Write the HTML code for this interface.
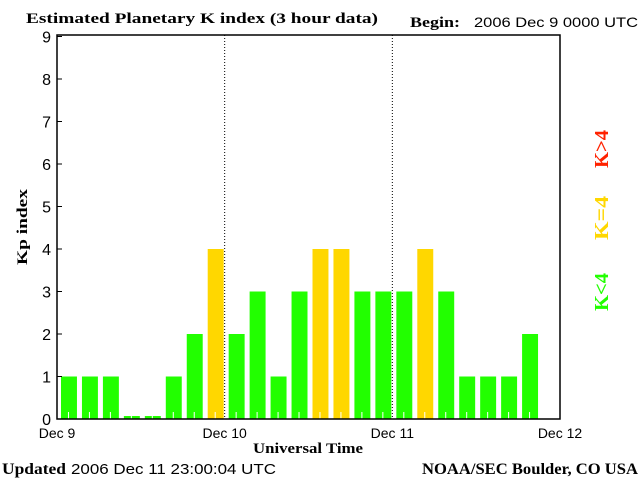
<!DOCTYPE html>
<html><head><meta charset="utf-8"><style>
body{margin:0;background:#fff;width:640px;height:480px;overflow:hidden}
svg{display:block}
.serif{font-family:"Liberation Serif",serif;font-weight:bold}
.sans{font-family:"Liberation Sans",sans-serif}
</style></head><body>
<svg id="chart" width="640" height="480">
<text x="26" y="23" class="serif" font-size="15" textLength="352" lengthAdjust="spacingAndGlyphs">Estimated Planetary K index (3 hour data)</text>
<text x="410" y="27" class="serif" font-size="15" textLength="50" lengthAdjust="spacingAndGlyphs">Begin:</text>
<text x="474" y="27" class="sans" font-size="14" textLength="164" lengthAdjust="spacingAndGlyphs">2006 Dec 9 0000 UTC</text>
<text transform="translate(27,227) rotate(-90)" text-anchor="middle" class="serif" font-size="15" textLength="76" lengthAdjust="spacingAndGlyphs">Kp index</text>
<text x="308" y="453" text-anchor="middle" class="serif" font-size="15" textLength="110" lengthAdjust="spacingAndGlyphs">Universal Time</text>
<text x="2" y="474" class="serif" font-size="16" textLength="64" lengthAdjust="spacingAndGlyphs">Updated</text>
<text x="71" y="474" class="sans" font-size="15" textLength="205" lengthAdjust="spacingAndGlyphs">2006 Dec 11 23:00:04 UTC</text>
<text x="422" y="474" class="serif" font-size="16" textLength="216" lengthAdjust="spacingAndGlyphs">NOAA/SEC Boulder, CO USA</text>
<text transform="translate(608,149) rotate(-90)" text-anchor="middle" class="serif" font-size="20" fill="#ff2200" textLength="38" lengthAdjust="spacingAndGlyphs">K&gt;4</text>
<text transform="translate(608,218) rotate(-90)" text-anchor="middle" class="serif" font-size="20" fill="#ffd700" textLength="44" lengthAdjust="spacingAndGlyphs">K=4</text>
<text transform="translate(608,292) rotate(-90)" text-anchor="middle" class="serif" font-size="20" fill="#22ff00" textLength="38" lengthAdjust="spacingAndGlyphs">K&lt;4</text>
<g id="marks"></g>
<rect x="57" y="35" width="503" height="384" fill="none" stroke="#000" stroke-width="1.5"/>
</svg>
<script>
const kpValues=[1,1,1,0,0,1,2,4, 2,3,1,3,4,4,3,3, 3,4,3,1,1,1,2];
const yTicks=[0,1,2,3,4,5,6,7,8,9];
const dayLabels=["Dec 9","Dec 10","Dec 11","Dec 12"];
const NS="http://www.w3.org/2000/svg";
const X0=57,X1=560,Y0=419,Y9=36.5;
const slotW=(X1-X0)/24;
const xs=i=>X0+i*slotW;
const ys=v=>Y0-(Y0-Y9)*v/9;
const g=document.getElementById('marks');
function mk(t,a){const e=document.createElementNS(NS,t);for(const k in a)e.setAttribute(k,a[k]);g.appendChild(e);return e;}
kpValues.forEach((v,i)=>{
  const col=v>4?'#ff2200':(v===4?'#ffd700':'#22ff00');
  const top=v===0?Y0-3:ys(v);
  const r=mk('rect',{x:xs(i)+4,y:top,width:slotW-5,height:Y0-top,fill:col});
  
  
  const t=mk('line',{x1:xs(i)+slotW/2+1,x2:xs(i)+slotW/2+1,y1:Y0,y2:Y0-7,stroke:'#fff','stroke-width':1});
  
  
});
yTicks.forEach(v=>{
  const l=mk('line',{x1:X0,x2:X0+5,y1:ys(v),y2:ys(v),stroke:'#000'});
  
  
  const t=mk('text',{x:X0-6,y:ys(v)+6,'text-anchor':'end','font-family':'Liberation Sans,sans-serif','font-size':16});
  t.textContent=v;
  
  
});
dayLabels.forEach((d,i)=>{
  const x=X0+i*8*slotW;
  if(i>0&&i<3){
    const l=mk('line',{x1:x,x2:x,y1:35,y2:Y0,stroke:'#000','stroke-dasharray':'1,2'});
    
    
  }
  const t=mk('text',{x:x,y:438,'text-anchor':'middle','font-family':'Liberation Sans,sans-serif','font-size':14});
  t.textContent=d;
  
  
});
</script>
</body></html>
